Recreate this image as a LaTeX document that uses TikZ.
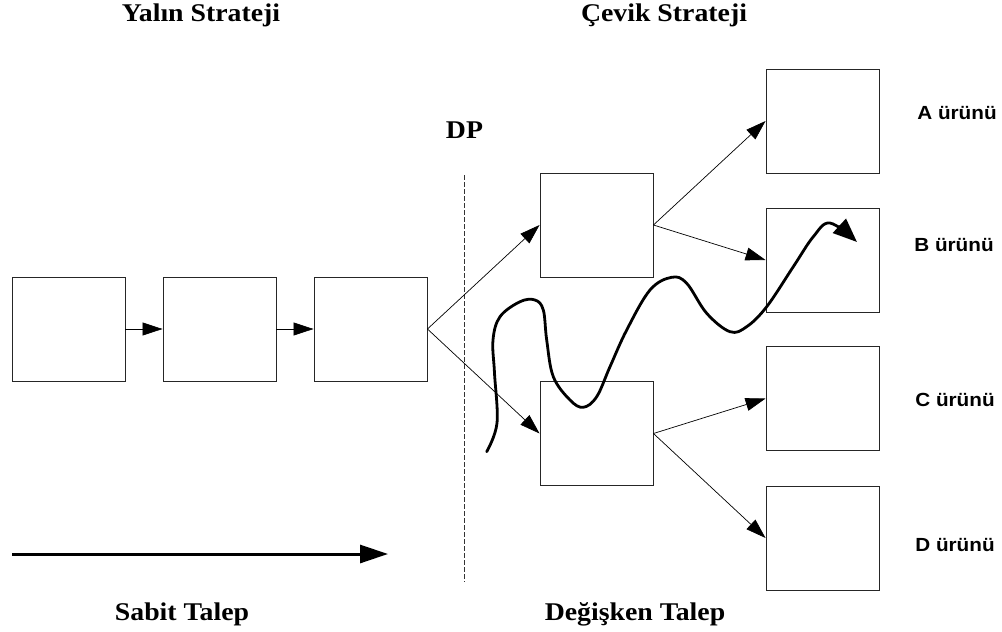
\documentclass[tikz,border=0pt]{standalone}
\usepackage{fontspec}
\setmainfont{Liberation Serif}
\newfontfamily\prodfont{Liberation Sans}
\usetikzlibrary{arrows.meta}
% slightly widened lettering
\newcommand\widetext[1]{\scalebox{1.09}[1]{#1}}
\begin{document}
\begin{tikzpicture}[x=1pt,y=-1pt,
  stage/.style={draw=black!85,line width=0.9pt,minimum width=113pt,minimum height=104pt,inner sep=0pt},
  flow/.style={line width=0.7pt,-{Triangle[length=20pt,width=13pt]}},
  title/.style={font=\fontsize{25.5}{28}\selectfont\bfseries,inner sep=0pt},
  prod/.style={font=\prodfont\fontsize{19}{22}\selectfont\bfseries,inner sep=0pt},
  path/.style={line width=2.8pt,line cap=round,-{Triangle[length=24pt,width=19pt]}}]
\useasboundingbox (0,0) rectangle (1002,632);

% strategy headings
\node[title] (t1) at (201,15) {\widetext{Yalın Strateji}};
\node[title] (t2) at (664,15) {\widetext{Çevik Strateji}};
\node[title] (dp) at (464.5,130) {\widetext{DP}};
\node[title] (t3) at (182,614) {\widetext{Sabit Talep}};
\node[title] (t4) at (635,614) {\widetext{Değişken Talep}};

% stages before the decoupling point
\node[stage] (b1) at (68.5,329) {};
\node[stage] (b2) at (219.5,329) {};
\node[stage] (b3) at (370.5,329) {};

% stages after the decoupling point
\node[stage] (u) at (596.5,225) {};
\node[stage] (l) at (596.5,433.5) {};

% products
\node[stage] (pa) at (822.5,121) {};
\node[stage] (pb) at (822.5,260) {};
\node[stage] (pc) at (822.5,398.5) {};
\node[stage] (pd) at (822.5,538) {};

\node[prod] (la) at (957,113) {\widetext{A ürünü}};
\node[prod] (lb) at (954,245) {\widetext{B ürünü}};
\node[prod] (lc) at (955,400) {\widetext{C ürünü}};
\node[prod] (ld) at (955,545) {\widetext{D ürünü}};

% decoupling point line
\coordinate (dtop) at (464,175);
\coordinate (dbot) at (464,582);
\draw[line width=0.7pt,black!80,dash pattern=on 4.5pt off 2.5pt] (dtop) -- (dbot);

% material flow
\draw[flow] (b1.east) -- (b2.west);
\draw[flow] (b2.east) -- (b3.west);
\draw[flow] (b3.east) -- (u.west);
\draw[flow] (b3.east) -- (l.west);
\draw[flow] (u.east) -- (pa.west);
\draw[flow] (u.east) -- (pb.west);
\draw[flow] (l.east) -- (pc.west);
\draw[flow] (l.east) -- (pd.west);

% demand direction
\coordinate (ds) at (12,554);
\coordinate (de) at (388,554);
\draw[line width=3pt,-{Triangle[length=28pt,width=18pt]}] (ds) -- (de);

% variable demand path
\draw[path] plot[smooth,tension=0.6] coordinates {
  (486.7,451.7) (497,423) (494.5,373) (493,340) (500,316.7) (520,301.7)
  (535,300) (543.3,310) (546.7,340) (553.3,376.7) (570,400) (583.3,407.3)
  (596.7,396.7) (610,366.7) (626.7,330) (650,290) (671.7,277.3) (686.7,283.3)
  (706.7,313.3) (730,331.7) (746.7,326.7) (766.7,306.7) (793.3,266.7)
  (813.3,236.7) (830,223) (857,242)};
\end{tikzpicture}
\end{document}
